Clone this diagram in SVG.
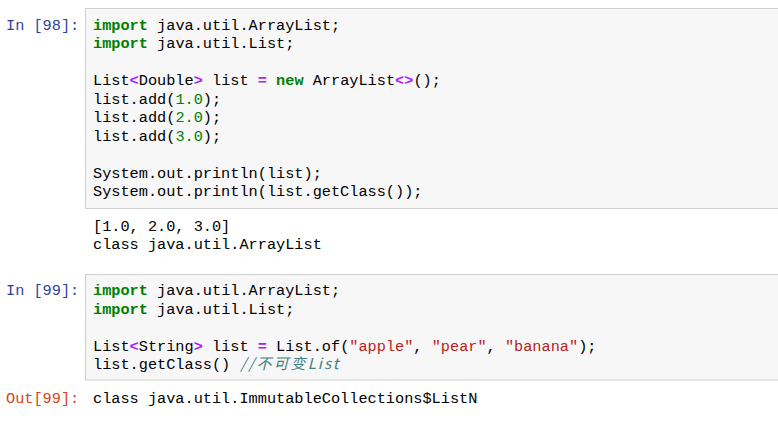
<svg xmlns="http://www.w3.org/2000/svg" width="778" height="422" viewBox="0 0 778 422">
<style>
text{font-family:"Liberation Mono","DejaVu Sans Mono",monospace;font-size:15.25px;fill:#000;white-space:pre}
.box{fill:#f7f7f7;stroke:#cfcfcf;stroke-width:1}
.pin{fill:#303F9F}
.pout{fill:#D84315}
.k{fill:#008000;font-weight:bold}
.o{fill:#AA22FF;font-weight:bold}
.n{fill:#008000}
.s{fill:#BA2121}
.c{fill:#408080;font-style:italic;font-family:"Noto Sans CJK SC","Noto Sans",sans-serif;font-size:15px}
</style>
<rect width="778" height="422" fill="#ffffff"/>
<g id="cell98">
<rect class="box" x="85.5" y="8.5" width="720" height="200"/>
<text class="pin" x="6" y="29.5" xml:space="preserve">In [98]:</text>
<text x="93" y="29.5" xml:space="preserve"><tspan class="k">import</tspan> java.util.ArrayList;</text>
<text x="93" y="48" xml:space="preserve"><tspan class="k">import</tspan> java.util.List;</text>
<text x="93" y="85" xml:space="preserve">List<tspan class="o">&lt;</tspan>Double<tspan class="o">&gt;</tspan> list <tspan class="o">=</tspan> <tspan class="k">new</tspan> ArrayList<tspan class="o">&lt;&gt;</tspan>();</text>
<text x="93" y="103.5" xml:space="preserve">list.add(<tspan class="n">1.0</tspan>);</text>
<text x="93" y="122" xml:space="preserve">list.add(<tspan class="n">2.0</tspan>);</text>
<text x="93" y="140.5" xml:space="preserve">list.add(<tspan class="n">3.0</tspan>);</text>
<text x="93" y="177.5" xml:space="preserve">System.out.println(list);</text>
<text x="93" y="196" xml:space="preserve">System.out.println(list.getClass());</text>
</g>
<g id="output98">
<text x="93" y="230.7" xml:space="preserve">[1.0, 2.0, 3.0]</text>
<text x="93" y="249.2" xml:space="preserve">class java.util.ArrayList</text>
</g>
<g id="cell99">
<rect class="box" x="85.5" y="274.5" width="720" height="105.5"/>
<text class="pin" x="6" y="295" xml:space="preserve">In [99]:</text>
<text x="93" y="295" xml:space="preserve"><tspan class="k">import</tspan> java.util.ArrayList;</text>
<text x="93" y="313.5" xml:space="preserve"><tspan class="k">import</tspan> java.util.List;</text>
<text x="93" y="350.5" xml:space="preserve">List<tspan class="o">&lt;</tspan>String<tspan class="o">&gt;</tspan> list <tspan class="o">=</tspan> List.of(<tspan class="s">"apple"</tspan>, <tspan class="s">"pear"</tspan>, <tspan class="s">"banana"</tspan>);</text>
<text x="93" y="369" xml:space="preserve">list.getClass() </text>
<text class="c" x="240.5" y="369" textLength="98" lengthAdjust="spacing">//不可变List</text>
</g>
<g id="output99">
<text class="pout" x="6" y="402.7" xml:space="preserve">Out[99]:</text>
<text x="93" y="402.7" xml:space="preserve">class java.util.ImmutableCollections$ListN</text>
</g>
<g id="connectors"/>
</svg>
